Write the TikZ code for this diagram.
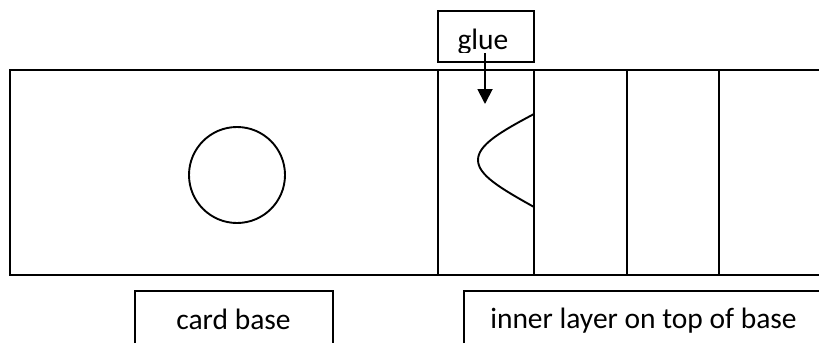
\documentclass[tikz,border=0pt]{standalone}
\usepackage{fontspec}
\setmainfont{Carlito}
\usetikzlibrary{arrows.meta}
\tikzset{
  ln/.style={draw=black,line width=1.9pt},
  lab/.style={font=\fontsize{29.5}{32}\selectfont,inner sep=0pt,anchor=base}
}
\begin{document}
\begin{tikzpicture}[x=1pt,y=-1pt]
\useasboundingbox (0,0) rectangle (819,343);
\fill[white] (0,0) rectangle (819,343);
\coordinate (tl) at (10,70);
\coordinate (tr) at (819,70);
\coordinate (bl) at (10,275);
\coordinate (br) at (819,275);
\draw[ln] (tr) -- (tl) -- (bl) -- (br);
\foreach \x in {438,534,627,719}{\draw[ln] (\x,70) -- (\x,275);}
\node[ln,circle,minimum size=96pt,inner sep=0pt] (hole) at (237,175) {};
\draw[ln] (534,114) .. controls (500,132) and (478,145) .. (478,160) .. controls (478,175) and (500,188) .. (534,207);
\node[ln,minimum width=96pt,minimum height=51pt,inner sep=0pt] (gluebox) at (486,36.5) {};
\begin{scope}
\clip (438,11) rectangle (533,52.5);
\node[lab] (gluet) at (483,49.3) {glue};
\end{scope}
\coordinate (tip) at (485,104);
\coordinate (tail) at (485,53);
\draw[ln,-{Triangle[length=15pt,width=15pt]}] (tail) -- (tip);
\coordinate (a1) at (135,343);
\coordinate (a2) at (135,291);
\coordinate (a3) at (333,291);
\coordinate (a4) at (333,343);
\draw[ln] (a1) -- (a2) -- (a3) -- (a4);
\node[lab] (cb) at (233.5,329) {card base};
\coordinate (b1) at (464,343);
\coordinate (b2) at (464,291);
\coordinate (b3) at (819,291);
\draw[ln] (b1) -- (b2) -- (b3);
\node[lab] (il) at (643.5,328.5) {inner layer on top of base};
\end{tikzpicture}
\end{document}
